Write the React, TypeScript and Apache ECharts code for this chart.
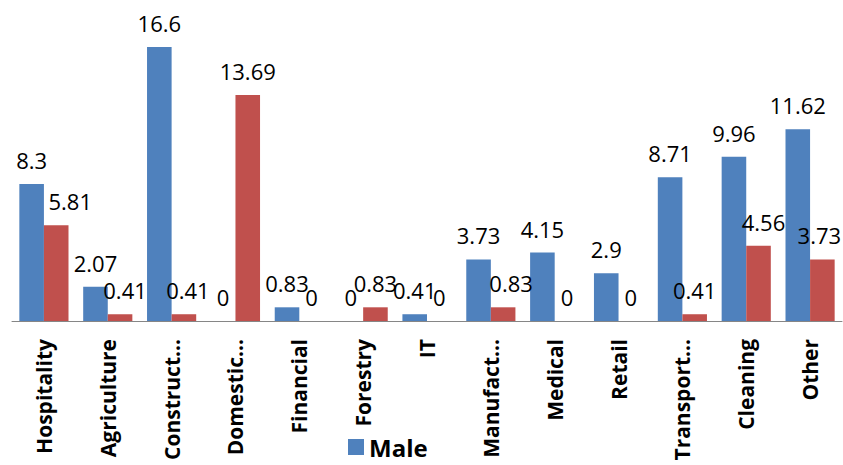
import React, { useEffect, useRef } from "react";
import * as echarts from "echarts";

const categories = [
  "Hospitality",
  "Agriculture",
  "Construct…",
  "Domestic…",
  "Financial",
  "Forestry",
  "IT",
  "Manufact…",
  "Medical",
  "Retail",
  "Transport…",
  "Cleaning",
  "Other",
];
const maleValues = [8.3, 2.07, 16.6, 0, 0.83, 0, 0.41, 3.73, 4.15, 2.9, 8.71, 9.96, 11.62];
const femaleValues = [5.81, 0.41, 0.41, 13.69, 0, 0.83, 0, 0.83, 0, 0, 0.41, 4.56, 3.73];

// horizontal nudges Excel applied to a few labels to avoid overlap
const femaleLabelShift: Record<number, number> = { 0: 14, 1: 5, 2: 4, 7: 8, 11: 5, 12: -3 };

const FONT = "'Open Sans', 'Noto Sans', sans-serif";

export default function App() {
  const ref = useRef<HTMLDivElement>(null);
  useEffect(() => {
    if (!ref.current) return;
    const chart = echarts.init(ref.current, null, { renderer: "svg" });
    const labelBase = {
      show: true,
      position: "top" as const,
      distance: 13,
      color: "#000",
      fontSize: 22,
      fontFamily: FONT,
    };
    chart.setOption({
      animation: false,
      textStyle: { fontFamily: FONT },
      grid: { left: 12, right: 1, top: 24, bottom: 144, containLabel: false },
      legend: {
        data: ["Male"],
        left: 343,
        top: 430,
        itemWidth: 16,
        itemHeight: 16,
        icon: "rect",
        textStyle: { fontSize: 24, fontWeight: "bold", color: "#000", fontFamily: FONT },
      },
      xAxis: {
        type: "category",
        data: categories,
        axisLine: { lineStyle: { color: "#868686", width: 1 } },
        axisTick: { length: 7, lineStyle: { color: "#868686" } },
        axisLabel: {
          rotate: 90,
          interval: 0,
          margin: 18,
          color: "#000",
          fontSize: 21,
          fontWeight: "bold",
          fontFamily: FONT,
        },
      },
      yAxis: {
        type: "value",
        min: 0,
        max: 18,
        show: false,
        splitLine: { show: false },
      },
      series: [
        {
          name: "Male",
          type: "bar",
          data: maleValues,
          barGap: "0%",
          barCategoryGap: "23%",
          itemStyle: { color: "#4F81BD" },
          label: { ...labelBase },
        },
        {
          name: "Female",
          type: "bar",
          data: femaleValues.map((v, i) => ({
            value: v,
            label: { offset: [femaleLabelShift[i] || 0, 0] },
          })),
          barGap: "0%",
          barCategoryGap: "23%",
          itemStyle: { color: "#C0504D" },
          label: { ...labelBase },
        },
      ],
    });
    return () => chart.dispose();
  }, []);
  return <div ref={ref} style={{ width: 843, height: 465, position: "absolute", left: 0, top: 0 }} />;
}
